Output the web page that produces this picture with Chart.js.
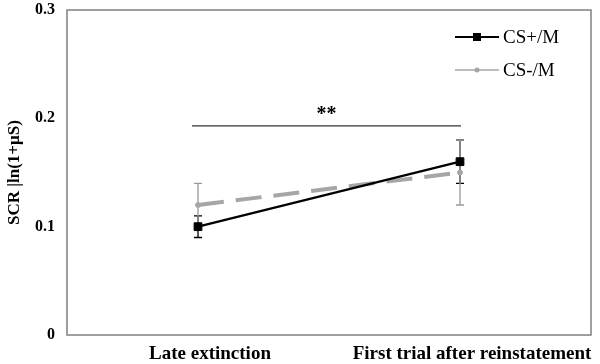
<!DOCTYPE html>
<html>
<head>
<meta charset="utf-8">
<script src="https://cdn.jsdelivr.net/npm/chart.js@4"></script>
<style>
  html, body { margin: 0; padding: 0; background: #fff; }
  #wrap { width: 600px; height: 364px; }
</style>
</head>
<body>
<div id="wrap"><canvas id="chart"></canvas></div>
<script>
const categories = ['Late extinction', 'First trial after reinstatement'];
const seriesNames = ['CS+/M', 'CS-/M'];
const csPlus = [0.10, 0.16];
const csPlusErr = [0.01, 0.02];
const csMinus = [0.12, 0.15];
const csMinusErr = [0.02, 0.03];
const yTicks = [0, 0.1, 0.2, 0.3];
const sigLevel = 0.193;
const sigText = '**';

const serif = '"Liberation Serif", "Times New Roman", serif';
const gray = '#a6a6a6';

// error bars, drawn under the points (black first, gray over it)
const errorBars = {
    id: 'errorBars',
    beforeDatasetsDraw(chart) {
        const ctx = chart.ctx;
        const y = chart.scales.y;
        const errs = [csPlusErr, csMinusErr];
        const cols = ['#000', '#9a9a9a'];
        [0, 1].forEach(function (di) {
            const meta = chart.getDatasetMeta(di);
            meta.data.forEach(function (pt, i) {
                const v = chart.data.datasets[di].data[i];
                const top = y.getPixelForValue(v + errs[di][i]);
                const bot = y.getPixelForValue(v - errs[di][i]);
                ctx.save();
                ctx.strokeStyle = cols[di];
                ctx.lineWidth = 1.3;
                ctx.beginPath();
                ctx.moveTo(pt.x, top); ctx.lineTo(pt.x, bot);
                ctx.moveTo(pt.x - 4, top); ctx.lineTo(pt.x + 4, top);
                ctx.moveTo(pt.x - 4, bot); ctx.lineTo(pt.x + 4, bot);
                ctx.stroke();
                ctx.restore();
            });
        });
    }
};

// frame, significance bar and legend
const extras = {
    id: 'extras',
    afterDraw(chart) {
        const ctx = chart.ctx;
        const a = chart.chartArea;
        const x = chart.scales.x;
        const y = chart.scales.y;
        ctx.save();
        ctx.strokeStyle = '#808080';
        ctx.lineWidth = 1.5;
        ctx.strokeRect(a.left, a.top, a.right - a.left, a.bottom - a.top);

        const sy = y.getPixelForValue(sigLevel);
        const x0 = x.getPixelForValue(0) - 6;
        const x1 = x.getPixelForValue(1) + 1;
        ctx.strokeStyle = '#333';
        ctx.lineWidth = 1.3;
        ctx.beginPath();
        ctx.moveTo(x0, sy); ctx.lineTo(x1, sy);
        ctx.stroke();
        ctx.fillStyle = '#000';
        ctx.font = 'bold 20px ' + serif;
        ctx.textAlign = 'center';
        ctx.textBaseline = 'bottom';
        ctx.fillText(sigText, (x0 + x1) / 2, sy - 1);

        // legend
        ctx.font = '19px ' + serif;
        ctx.textAlign = 'left';
        ctx.textBaseline = 'middle';
        const lx = 455, lw = 44;
        const rows = [37, 70];
        ctx.strokeStyle = '#000';
        ctx.lineWidth = 2;
        ctx.beginPath(); ctx.moveTo(lx, rows[0]); ctx.lineTo(lx + lw, rows[0]); ctx.stroke();
        ctx.fillStyle = '#000';
        ctx.fillRect(lx + lw / 2 - 4, rows[0] - 4, 8, 8);
        ctx.fillText(seriesNames[0], lx + lw + 4, rows[0] + 1);
        ctx.strokeStyle = gray;
        ctx.lineWidth = 1.5;
        ctx.beginPath(); ctx.moveTo(lx, rows[1]); ctx.lineTo(lx + lw, rows[1]); ctx.stroke();
        ctx.fillStyle = gray;
        ctx.beginPath(); ctx.arc(lx + lw / 2, rows[1], 2.5, 0, Math.PI * 2); ctx.fill();
        ctx.fillStyle = '#000';
        ctx.fillText(seriesNames[1], lx + lw + 4, rows[1] + 1);
        ctx.restore();
    }
};

new Chart(document.getElementById('chart'), {
    type: 'line',
    data: {
        labels: categories,
        datasets: [
            {
                label: seriesNames[0],
                data: csPlus,
                borderColor: '#000',
                backgroundColor: '#000',
                borderWidth: 2.2,
                pointStyle: 'rect',
                pointRadius: 5.5,
                pointBorderWidth: 1,
                pointHoverRadius: 5.5,
                order: 0
            },
            {
                label: seriesNames[1],
                data: csMinus,
                borderColor: gray,
                backgroundColor: gray,
                borderWidth: 4,
                borderDash: [26, 12],
                pointStyle: 'circle',
                pointRadius: 2.5,
                pointBorderWidth: 1,
                pointHoverRadius: 2.5,
                order: 1
            }
        ]
    },
    options: {
        responsive: true,
        maintainAspectRatio: false,
        animation: false,
        layout: { padding: { top: 10, right: 9, left: 4, bottom: 0 } },
        plugins: {
            legend: { display: false },
            tooltip: { enabled: false }
        },
        scales: {
            x: {
                offset: true,
                grid: { display: false, drawTicks: false },
                border: { display: false },
                ticks: {
                    color: '#000',
                    padding: 8,
                    labelOffset: 12,
                    font: { family: serif, size: 19, weight: 'bold' }
                },
                afterFit: function (s) { s.height = 29; }
            },
            y: {
                min: 0,
                max: 0.3,
                grid: { display: false, drawTicks: false },
                border: { display: false },
                afterBuildTicks: function (s) { s.ticks = yTicks.map(function (v) { return { value: v }; }); },
                ticks: {
                    color: '#000',
                    padding: 12,
                    font: { family: serif, size: 16, weight: 'bold' },
                    callback: function (v) { return String(+v.toFixed(1)); }
                },
                title: {
                    display: true,
                    text: 'SCR |ln(1+µS)',
                    color: '#000',
                    padding: 0,
                    font: { family: serif, size: 17, weight: 'bold' }
                },
                afterFit: function (s) {
                    s.width = 63;
                    s.paddingTop = 0;
                    s.paddingBottom = 0;
                }
            }
        }
    },
    plugins: [errorBars, extras]
});
</script>
</body>
</html>
